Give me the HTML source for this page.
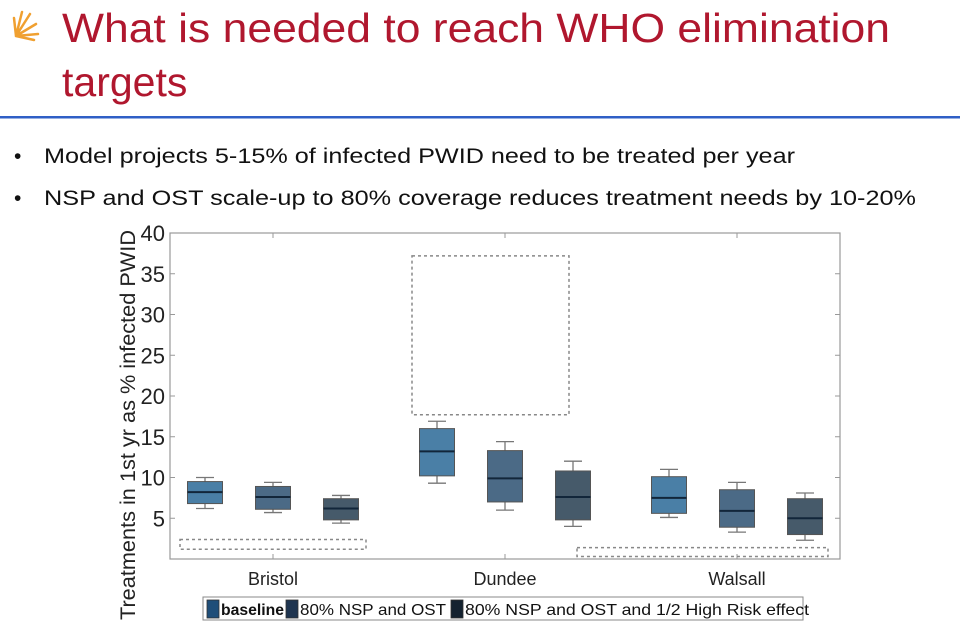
<!DOCTYPE html>
<html><head><meta charset="utf-8"><style>
html,body{margin:0;padding:0;background:#fff;}
svg{display:block;font-family:"Liberation Sans",Arial,sans-serif;}
</style></head><body>
<svg id="s" width="960" height="640" viewBox="0 0 960 640">
<g stroke="#f0a030" stroke-width="2.5" fill="none" stroke-linecap="round">
<path d="M16 36 L30 14 M16 36 L36 24 M16 36 L38 34 M16 36 L22 12 M16 36 L34 40 M16 36 L14 18"/>
</g>
<text x="62" y="42" font-size="41" fill="#b0172e" textLength="828" lengthAdjust="spacingAndGlyphs">What is needed to reach WHO elimination</text>
<text x="62" y="96" font-size="41" fill="#b0172e">targets</text>
<rect x="0" y="116" width="960" height="2.5" fill="#2f5fc6"/>
<text x="14" y="163" font-size="21" fill="#111">•</text>
<text x="44" y="163" font-size="21" fill="#111" textLength="751" lengthAdjust="spacingAndGlyphs">Model projects 5-15% of infected PWID need to be treated per year</text>
<text x="14" y="205" font-size="21" fill="#111">•</text>
<text x="44" y="205" font-size="21" fill="#111" textLength="872" lengthAdjust="spacingAndGlyphs">NSP and OST scale-up to 80% coverage reduces treatment needs by 10-20%</text>
<g id="chart"></g>
</svg>
<script>
const categories = ["Bristol","Dundee","Walsall"];
const seriesNames = ["baseline","80% NSP and OST","80% NSP and OST and 1/2 High Risk effect"];
// each entry: [min, q1, median, q3, max] per category
const baselineStats = [[6.2,6.8,8.2,9.5,10],[9.3,10.2,13.2,16,16.9],[5.1,5.6,7.5,10.1,11]];
const nspOstStats   = [[5.7,6.1,7.6,8.9,9.4],[6,7,9.9,13.3,14.4],[3.3,3.9,5.9,8.5,9.4]];
const highRiskStats = [[4.4,4.8,6.2,7.4,7.8],[4,4.8,7.6,10.8,12],[2.3,3,5,7.4,8.1]];
// dashed reference regions: [ymin, ymax] per category
const dashedRanges = [[1.2,2.4],[17.7,37.2],[0.3,1.4]];
const yTicks = [5,10,15,20,25,30,35,40];
const yMin = 0, yMax = 40;

const NS="http://www.w3.org/2000/svg";
const g=document.getElementById('chart');
const L=170,R=840,T=233,B=559;
function yS(v){return B-(v-yMin)/(yMax-yMin)*(B-T);}
function xC(i){return 273+232*i;}
function mk(tag,attrs,parent){const e=document.createElementNS(NS,tag);for(const k in attrs)e.setAttribute(k,attrs[k]);(parent||g).appendChild(e);return e;}

const frame=mk('rect',{x:L,y:T,width:R-L,height:B-T,fill:'#fff',stroke:'#999','stroke-width':1.2});



yTicks.forEach(t=>{
  const y=yS(t);
  const tk=mk('line',{x1:L,x2:L+5,y1:y,y2:y,stroke:'#999'});
  
  
  const tr=mk('line',{x1:R-5,x2:R,y1:y,y2:y,stroke:'#999'});
  
  
  const lb=mk('text',{x:L-5,y:y+8,'text-anchor':'end','font-size':22,fill:'#222'});
  lb.textContent=t;
  
  
});

const yl=mk('text',{x:0,y:0,transform:'translate(135,425) rotate(-90)','text-anchor':'middle','font-size':21,fill:'#222',textLength:390,lengthAdjust:'spacingAndGlyphs'});
yl.textContent='Treatments in 1st yr as % infected PWID';



const colors=['#4a7fa6','#4b6a86','#465a6a'];
const allStats=[baselineStats,nspOstStats,highRiskStats];
const off=68, bw=35;

categories.forEach((c,i)=>{
  const cx=xC(i);
  const tb=mk('line',{x1:cx,x2:cx,y1:B,y2:B-5,stroke:'#999'});
  
  
  const tt=mk('line',{x1:cx,x2:cx,y1:T,y2:T+5,stroke:'#999'});
  
  
  const lb=mk('text',{x:cx,y:B+26,'text-anchor':'middle','font-size':18,fill:'#222'});
  lb.textContent=c;
  
  
  const dr=dashedRanges[i];
  const dx0 = i===0? cx-93 : (i===1? cx-93 : cx-160);
  const dx1 = i===0? cx+93 : (i===1? cx+64 : cx+91);
  const dbox=mk('rect',{x:dx0,y:yS(dr[1]),width:dx1-dx0,height:yS(dr[0])-yS(dr[1]),fill:'none',stroke:'#888','stroke-width':1.5,'stroke-dasharray':'3,3'});
  
  
  allStats.forEach((st,s)=>{
    const d=st[i]; const x=cx+(s-1)*off;
    const grp=mk('g',{});
    
    
    mk('line',{x1:x,x2:x,y1:yS(d[0]),y2:yS(d[1]),stroke:'#777','stroke-width':1.3},grp);
    mk('line',{x1:x,x2:x,y1:yS(d[3]),y2:yS(d[4]),stroke:'#777','stroke-width':1.3},grp);
    mk('line',{x1:x-9,x2:x+9,y1:yS(d[0]),y2:yS(d[0]),stroke:'#777','stroke-width':1.3},grp);
    mk('line',{x1:x-9,x2:x+9,y1:yS(d[4]),y2:yS(d[4]),stroke:'#777','stroke-width':1.3},grp);
    mk('rect',{x:x-bw/2,y:yS(d[3]),width:bw,height:yS(d[1])-yS(d[3]),fill:colors[s],stroke:'#555','stroke-width':1},grp);
    mk('line',{x1:x-bw/2,x2:x+bw/2,y1:yS(d[2]),y2:yS(d[2]),stroke:'#12263a','stroke-width':2},grp);
  });
});

// legend
const lg=mk('g',{});


mk('rect',{x:203,y:597,width:600,height:23,fill:'#fff',stroke:'#888','stroke-width':1},lg);
const legX=[207,286,451], legW=[63,146,344], legC=['#1f4e79','#1f3550','#142230'];
seriesNames.forEach((n,k)=>{
  const e=mk('g',{},lg);
  
  
  mk('rect',{x:legX[k],y:600,width:12,height:18,fill:legC[k],stroke:'#333','stroke-width':0.8},e);
  const t=mk('text',{x:legX[k]+14,y:615,'font-size':16,fill:'#111',textLength:legW[k],lengthAdjust:'spacingAndGlyphs','font-weight':k===0?'bold':'normal'},e);
  t.textContent=n;
});
</script>
</body></html>
